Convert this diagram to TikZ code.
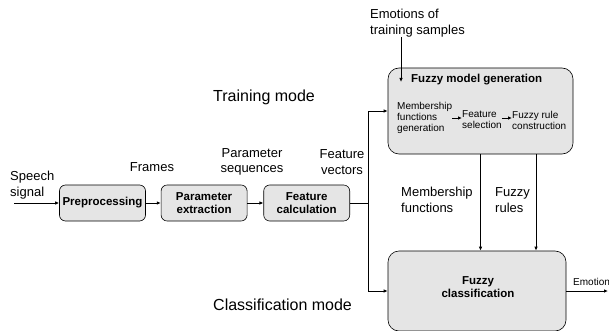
\documentclass[tikz,border=0pt]{standalone}
\usepackage{fontspec}
\setmainfont{Liberation Sans}
\usetikzlibrary{arrows.meta,positioning}

\begin{document}
\begin{tikzpicture}[
x=1pt, y=-1pt,
node distance=15pt and 15pt,
box/.style={draw, line width=0.6pt, rounded corners=6pt, fill=black!10, align=center, font=\fontsize{11.5}{13}\selectfont\bfseries, minimum width=86pt, minimum height=36pt, inner sep=1pt},
bigbox/.style={draw, line width=0.6pt, rounded corners=11pt, fill=black!10},
lbl/.style={align=center, font=\fontsize{13}{15.5}\selectfont, inner sep=0pt},
mode/.style={font=\fontsize{16}{19}\selectfont, inner sep=0pt, anchor=west},
small/.style={align=left, font=\fontsize{10}{11}\selectfont, inner sep=0pt, anchor=west},
arrow/.style={-{Latex[length=4pt,width=3.5pt]}, line width=0.8pt}
]
\useasboundingbox (0,0) rectangle (609,331);
\node[box] (pre) at (102.5,203) {Preprocessing};
\node[box, right=of pre] (par) {Parameter\\extraction};
\node[box, right=16pt of par] (feat) {Feature\\calculation};
\node[bigbox, minimum width=185pt, minimum height=86pt] (gen) at (480.5,111) {};
\node[bigbox, minimum width=178pt, minimum height=80pt] (cls) at (477,291) {};
\node[font=\fontsize{11.5}{13}\selectfont\bfseries, inner sep=0pt, anchor=west] (gtitle) at (411,80) {Fuzzy model generation};
\node[font=\fontsize{11.5}{13}\selectfont\bfseries, align=center] (ctitle) at (478,287) {Fuzzy\\classification};
\node[small] (mf) at (397,118) {Membership\\functions\\generation};
\node[small] (fs) at (462,120) {Feature\\selection};
\node[small] (fr) at (512,120) {Fuzzy rule\\construction};
\node[lbl, align=left, anchor=west] (emo) at (370,23) {Emotions of\\training samples};
\node[lbl, align=left, anchor=west] (sp) at (10,185) {Speech\\signal};
\node[lbl] (frm) at (152,167) {Frames};
\node[lbl] (pseq) at (252,162) {Parameter\\sequences};
\node[lbl] (fvec) at (342,162) {Feature\\vectors};
\node[lbl, align=left, anchor=west] (mfl) at (401,200) {Membership\\functions};
\node[lbl, align=left, anchor=west] (frl) at (495,200) {Fuzzy\\rules};
\node[mode] (tm) at (213,97) {Training mode};
\node[mode] (cm) at (213,305) {Classification mode};
\node[small] (emol) at (573,282) {Emotion};
\coordinate (sin) at (14,203);
\coordinate (tin) at (401,82);
\coordinate (j) at (368,0);
\coordinate (eout) at (608,0);
\draw[arrow] (sin) -- (pre);
\draw[arrow] (pre) -- (par);
\draw[arrow] (par) -- (feat);
\draw[line width=0.8pt] (feat.east) -- (feat.east -| j);
\draw[arrow] (feat.east -| j) |- (gen.west);
\draw[arrow] (feat.east -| j) |- (cls.west);
\draw[arrow] (emo.south -| tin) -- (tin);
\draw[arrow] (mf.east |- 0,118) -- (fs.west |- 0,118);
\draw[arrow] (fs.east |- 0,118) -- (fr.west |- 0,118);
\draw[arrow] (gen.south) -- (gen.south |- cls.north);
\draw[arrow] ([xshift=55.5pt]gen.south) -- ([xshift=55.5pt]gen.south |- cls.north);
\draw[arrow] (cls.east) -- (cls.east -| eout);
\end{tikzpicture}
\end{document}
